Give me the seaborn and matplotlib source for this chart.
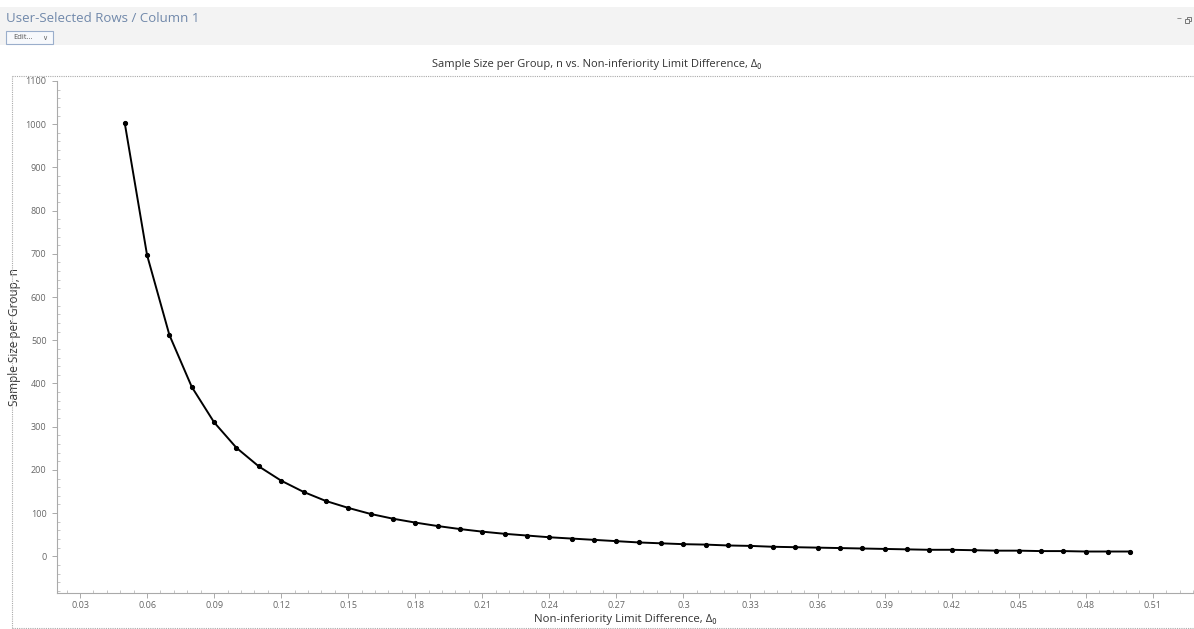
import matplotlib
matplotlib.use("Agg")
import matplotlib.pyplot as plt
from matplotlib.patches import Rectangle
from matplotlib.ticker import MultipleLocator, FixedLocator, FuncFormatter
import seaborn as sns
import pandas as pd

# ---- data ----
delta = [0.05, 0.06, 0.07, 0.08, 0.09, 0.10, 0.11, 0.12, 0.13, 0.14,
         0.15, 0.16, 0.17, 0.18, 0.19, 0.20, 0.21, 0.22, 0.23, 0.24,
         0.25, 0.26, 0.27, 0.28, 0.29, 0.30, 0.31, 0.32, 0.33, 0.34,
         0.35, 0.36, 0.37, 0.38, 0.39, 0.40, 0.41, 0.42, 0.43, 0.44,
         0.45, 0.46, 0.47, 0.48, 0.49, 0.50]
sample_n = [1003, 697, 512, 392, 310, 251, 208, 175, 149, 128,
            112, 98, 87, 78, 70, 63, 57, 52, 48, 44,
            41, 38, 35, 32, 30, 28, 27, 25, 24, 22,
            21, 20, 19, 18, 17, 16, 15, 15, 14, 13,
            13, 12, 12, 11, 11, 11]
x_ticks = [0.03, 0.06, 0.09, 0.12, 0.15, 0.18, 0.21, 0.24, 0.27, 0.30,
           0.33, 0.36, 0.39, 0.42, 0.45, 0.48, 0.51]
y_ticks = [0, 100, 200, 300, 400, 500, 600, 700, 800, 900, 1000, 1100]

df = pd.DataFrame({"delta": delta, "n": sample_n})

sns.set_theme(style="white")
FAM = ["Open Sans", "DejaVu Sans"]
plt.rcParams["font.family"] = FAM

fig = plt.figure(figsize=(11.94, 6.29), dpi=100)
W, H = 1194, 629

def fx(px):
    return px / W

def fy(py):
    return 1 - py / H

# header band
fig.patches.append(Rectangle((0, fy(45)), 1, fy(7) - fy(45), transform=fig.transFigure,
                             facecolor="#f3f3f3", edgecolor="none", zorder=0))
fig.text(fx(6), fy(18), "User-Selected Rows / Column 1", color="#7088aa",
         fontsize=9.5, va="center", ha="left")
fig.patches.append(Rectangle((fx(6), fy(44)), fx(47), fy(31) - fy(44), transform=fig.transFigure,
                             facecolor="#f7f9fc", edgecolor="#9aaecb", linewidth=0.8, zorder=1))
fig.text(fx(13), fy(37.5), "Edit...", color="#555555", fontsize=5.5, va="center", ha="left")
fig.text(fx(42), fy(37.5), "∨", color="#666666", fontsize=5, va="center", ha="left",
         family=["DejaVu Sans"])
fig.text(fx(1179), fy(19), "–", color="#777777", fontsize=7, va="center", ha="center")
# restore icon drawn as two small overlapping squares
fig.patches.append(Rectangle((fx(1187), fy(21)), fx(4), fy(17) - fy(21), transform=fig.transFigure,
                             facecolor="#f3f3f3", edgecolor="#777777", linewidth=0.7, zorder=2))
fig.patches.append(Rectangle((fx(1185), fy(23)), fx(4), fy(19) - fy(23), transform=fig.transFigure,
                             facecolor="#f3f3f3", edgecolor="#777777", linewidth=0.7, zorder=3))

# chart title
fig.text(0.5, fy(64), "Sample Size per Group, n vs. Non-inferiority Limit Difference, Δ₀",
         ha="center", va="center", fontsize=8, color="#333333")

# dotted frame
for xs, ys in [([12, 1193], [76, 76]), ([12, 1193], [628, 628]), ([12, 12], [628, 76])]:
    fig.lines.append(plt.Line2D([fx(v) for v in xs], [fy(v) for v in ys],
                                transform=fig.transFigure, color="#aaaaaa",
                                linestyle=(0, (1, 1)), linewidth=0.8))

ax = fig.add_axes([fx(57), fy(593), fx(1193) - fx(57), fy(81) - fy(593)])
ax.set_facecolor("white")

sns.lineplot(data=df, x="delta", y="n", ax=ax, color="black", linewidth=1.4,
             marker="o", markersize=3, markeredgecolor="black", markerfacecolor="black")

ax.set_xlim(0.0197, 0.528)
ax.set_ylim(-85, 1100)
ax.xaxis.set_major_locator(FixedLocator(x_ticks))
ax.yaxis.set_major_locator(FixedLocator(y_ticks))
ax.xaxis.set_minor_locator(MultipleLocator(0.006))
ax.yaxis.set_minor_locator(MultipleLocator(20))
ax.xaxis.set_major_formatter(FuncFormatter(lambda v, p: f"{v:g}"))

for s in ["top", "right"]:
    ax.spines[s].set_visible(False)
for s in ["left", "bottom"]:
    ax.spines[s].set_color("#aaaaaa")
    ax.spines[s].set_linewidth(0.8)

ax.tick_params(axis="both", which="major", direction="out", length=3.5, width=0.7,
               color="#aaaaaa", labelsize=6.5, labelcolor="#666666", pad=4)
ax.tick_params(axis="both", which="minor", direction="in", length=2.5, width=0.6,
               color="#bbbbbb")
ax.tick_params(axis="x", which="major", pad=2.5)
ax.tick_params(axis="x", which="both", bottom=True)
ax.tick_params(axis="y", which="both", left=True)

ax.set_xlabel("Non-inferiority Limit Difference, Δ₀", fontsize=8.2, color="#333333")
ax.xaxis.set_label_coords(0.5, -(614 - 593) / (593 - 81))
ax.set_ylabel("Sample Size per Group, n", fontsize=8.5, color="#333333")
ax.yaxis.set_label_coords((21 - 57) / (1193 - 57), 0.5)
ax.grid(False)

fig.savefig("out.png", dpi=100, facecolor="white")
